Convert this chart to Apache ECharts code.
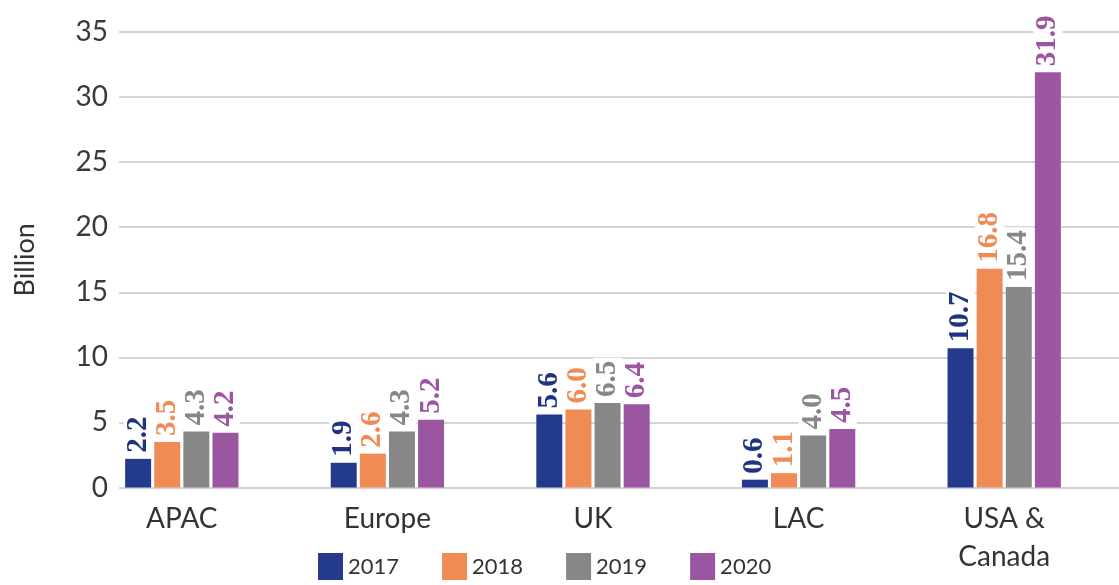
<!DOCTYPE html>
<html>
<head>
<meta charset="utf-8">
<script src="https://cdn.jsdelivr.net/npm/echarts@6/dist/echarts.min.js"></script>
<style>
html,body{margin:0;padding:0;background:#fff;}
#chart{width:1119px;height:585px;}
</style>
</head>
<body>
<div id="chart"></div>
<script>
const categories = ['APAC', 'Europe', 'UK', 'LAC', 'USA &\nCanada'];
const years = ['2017', '2018', '2019', '2020'];
const values2017 = [2.2, 1.9, 5.6, 0.6, 10.7];
const values2018 = [3.5, 2.6, 6.0, 1.1, 16.8];
const values2019 = [4.3, 4.3, 6.5, 4.0, 15.4];
const values2020 = [4.2, 5.2, 6.4, 4.5, 31.9];
const yTicks = { min: 0, max: 35, interval: 5 };

const barColors = ['#233a8f', '#f08b56', '#878787', '#9b56a1'];
const labelColors = ['#1f3382', '#f08b56', '#878787', '#9b56a1'];
const seriesValues = [values2017, values2018, values2019, values2020];

const BAR_W = 26;
const BAR_GAP = 0.12;
const nBars = years.length;
const groupW = nBars * BAR_W + (nBars - 1) * BAR_W * BAR_GAP;

const chart = echarts.init(document.getElementById('chart'));
const barSeries = years.map((y, i) => ({
  name: y,
  type: 'bar',
  xAxisIndex: 1,
  yAxisIndex: 1,
  data: seriesValues[i],
  barWidth: BAR_W,
  barGap: (BAR_GAP * 100) + '%',
  itemStyle: { color: barColors[i] }
}));

const labelSeries = years.map((y, i) => ({
  name: 'label' + y,
  type: 'custom',
  xAxisIndex: 1,
  yAxisIndex: 1,
  z: 5,
  silent: true,
  data: seriesValues[i].map((v, j) => [j, v]),
  renderItem: function (params, api) {
    const pt = api.coord([api.value(0), api.value(1)]);
    const off = -groupW / 2 + BAR_W / 2 + i * BAR_W * (1 + BAR_GAP);
    return {
      type: 'text',
      x: pt[0] + off,
      y: pt[1] - 3,
      rotation: Math.PI / 2,
      style: {
        text: api.value(1).toFixed(1),
        fontFamily: 'Liberation Serif',
        fontWeight: 'bold',
        fontSize: 29,
        fill: labelColors[i],
        align: 'left',
        verticalAlign: 'middle',
        backgroundColor: '#fff',
        padding: [0, 3, 0, 3]
      }
    };
  }
}));

chart.setOption({
  animation: false,
  backgroundColor: '#fff',
  textStyle: { fontFamily: 'Lato' },
  grid: [
    { left: 119, right: 0, top: 32, bottom: 97.5 },
    { left: 79, width: 1028, top: 32, bottom: 97.5 }
  ],
  legend: {
    data: years,
    left: 318,
    top: 553,
    padding: 0,
    itemWidth: 25,
    itemHeight: 27,
    itemGap: 43,
    icon: 'rect',
    textStyle: { fontFamily: 'Lato', fontSize: 22, color: '#333' }
  },
  xAxis: [
    { gridIndex: 0, type: 'category', data: [''], show: false },
    {
      gridIndex: 1, type: 'category', data: categories,
      axisLine: { show: false }, axisTick: { show: false },
      axisLabel: { fontFamily: 'Lato', fontSize: 28, color: '#333', margin: 12, lineHeight: 38, interval: 0 }
    }
  ],
  yAxis: [
    {
      gridIndex: 0, type: 'value', min: yTicks.min, max: yTicks.max, interval: yTicks.interval,
      name: 'Billion', nameLocation: 'middle', nameGap: 80, nameRotate: 90,
      nameTextStyle: { fontFamily: 'Lato', fontSize: 27, color: '#333' },
      axisLine: { show: false }, axisTick: { show: false },
      axisLabel: { fontFamily: 'Lato', fontSize: 28, color: '#3a3a3a', margin: 11 },
      splitLine: { lineStyle: { color: '#c6c6c6', width: 1.5 } }
    },
    {
      gridIndex: 1, type: 'value', min: yTicks.min, max: yTicks.max, interval: yTicks.interval,
      show: false, splitLine: { show: false }
    }
  ],
  series: barSeries.concat(labelSeries)
});
</script>
</body>
</html>
